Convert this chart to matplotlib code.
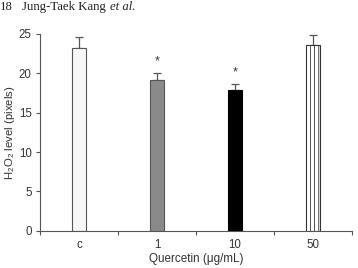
import matplotlib
matplotlib.use("Agg")
import matplotlib.pyplot as plt
import numpy as np

categories = ["c", "1", "10", "50"]
values = [23.2, 19.2, 17.9, 23.6]
errors = [1.4, 0.8, 0.7, 1.3]
significant = [False, True, True, False]
yticks = [0, 5, 10, 15, 20, 25]

plt.rcParams['font.family'] = ['Liberation Sans', 'DejaVu Sans']
plt.rcParams['hatch.linewidth'] = 0.6
plt.rcParams['mathtext.fontset'] = 'custom'
plt.rcParams['mathtext.rm'] = 'Liberation Sans'
plt.rcParams['mathtext.it'] = 'Liberation Sans:italic'
plt.rcParams['mathtext.bf'] = 'Liberation Sans:bold'
fig = plt.figure(figsize=(3.58, 2.68), dpi=100)
ax = fig.add_axes([40/358, 1-230.7/268, 312/358, (230.7-34)/268])

x = np.arange(len(categories))
faces = ["#f7f7f7", "#8a8a8a", "#000000", "#ffffff"]
edges = ["#555555", "#555555", "#000000", "#333333"]
hatches = [None, None, None, "||||"]
for i in range(len(categories)):
    ax.bar(x[i], values[i], width=0.17, color=faces[i], edgecolor=edges[i],
           linewidth=0.8, hatch=hatches[i], zorder=2)
    ax.errorbar(x[i], values[i], yerr=[[0], [errors[i]]], fmt='none',
                ecolor="#555555", elinewidth=0.9, capsize=3, capthick=0.9, zorder=1)
    if significant[i]:
        ax.text(x[i], values[i] + errors[i] + 0.7, "*", ha='center', va='bottom',
                fontsize=9, color="#333333")

ax.set_xlim(-0.5, 3.5)
ax.set_ylim(0, 25)
ax.set_yticks(yticks)
ax.set_xticks(x)
ax.set_xticklabels(categories)
ax.set_xticks(np.arange(-0.5, 4.0, 1.0), minor=True)
ax.tick_params(axis='x', which='major', length=0, pad=6, labelsize=8.3, colors="#333333")
ax.tick_params(axis='x', which='minor', length=3, width=0.8, color="#555555")
ax.tick_params(axis='y', length=3, width=0.8, pad=3, labelsize=8.3, color="#555555", labelcolor="#333333")
for s in ['top', 'right']:
    ax.spines[s].set_visible(False)
for s in ['left', 'bottom']:
    ax.spines[s].set_color("#555555")
    ax.spines[s].set_linewidth(0.8)

fig.text(10/358, 1 - 133/268, r"H$_2$O$_2$ level (pixels)", fontsize=8.2, color="#333333",
         rotation=90, ha='center', va='center')
fig.text(196/358, 1 - 259/268, "Quercetin (\u03bcg/mL)", fontsize=8.4, color="#333333",
         ha='center', va='center')

fig.text(0.0, 0.997, "18", fontsize=9.2, family=['Liberation Serif'],
         va='top', ha='left', color="#222222")
fig.text(22/358, 0.997, "Jung-Taek Kang", fontsize=9.2, family=['Liberation Serif'],
         va='top', ha='left', color="#222222")
fig.text(110/358, 0.997, "et al.", fontsize=9.2, family=['Liberation Serif'], style='italic',
         va='top', ha='left', color="#222222")

fig.savefig("out.png", dpi=100)
